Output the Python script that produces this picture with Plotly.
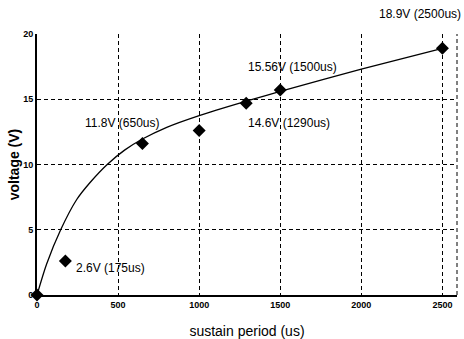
import plotly.graph_objects as go

# measured points
period_us = [0, 175, 650, 1000, 1290, 1500, 2500]
voltage_v = [0, 2.6, 11.6, 12.6, 14.7, 15.7, 18.9]

# fitted trend curve
curve_x = [0, 60, 146, 244, 326, 433, 540, 650, 800, 1000, 1290, 1500, 2000, 2500]
curve_y = [0, 2.4, 5.0, 7.3, 8.6, 10.0, 11.1, 11.95, 12.85, 13.75, 14.85, 15.6, 17.3, 18.9]

# annotation labels
label_text = ["15.56V (1500us)", "11.8V (650us)", "14.6V (1290us)", "2.6V (175us)"]
label_x = [1574, 529, 1556, 455]
label_y = [17.5, 13.2, 13.15, 2.1]
top_label = "18.9V (2500us)"

x_ticks = [0, 500, 1000, 1500, 2000, 2500]
y_ticks = [0, 5, 10, 15, 20]

font_family = "Liberation Sans Narrow, Arial Narrow, Liberation Sans, Arial, sans-serif"
title_family = "Liberation Sans, Arial, sans-serif"

fig = go.Figure()
fig.add_trace(go.Scatter(x=curve_x, y=curve_y, mode="lines",
                         line=dict(color="black", width=1.3, shape="spline", smoothing=0.8),
                         hoverinfo="skip", showlegend=False))
fig.add_trace(go.Scatter(x=period_us, y=voltage_v, mode="markers",
                         marker=dict(symbol="diamond", size=10, color="black"),
                         cliponaxis=False, showlegend=False))

for t, x, y in zip(label_text, label_x, label_y):
    fig.add_annotation(x=x, y=y, text=t, showarrow=False, xanchor="center", yanchor="middle",
                       font=dict(family=font_family, size=12, color="black"))
fig.add_annotation(x=1.014, y=1.078, xref="paper", yref="paper", text=top_label, showarrow=False,
                   xanchor="right", yanchor="middle",
                   font=dict(family=font_family, size=12, color="black"))

# dashed right border
fig.add_shape(type="line", xref="paper", yref="paper", x0=1, x1=1, y0=0, y1=1,
              line=dict(color="black", width=1, dash="4px,3px"))

fig.update_layout(
    width=464, height=339,
    margin=dict(l=37, r=7, t=34, b=44),
    paper_bgcolor="white", plot_bgcolor="white",
    font=dict(family=font_family, color="black"),
)
fig.update_xaxes(range=[0, 2590], tickvals=x_ticks, ticktext=[f"<b>{v}</b>" for v in x_ticks],
                 showgrid=True, gridcolor="black", griddash="4px,3px", gridwidth=1,
                 showline=True, linecolor="black", linewidth=2, zeroline=False,
                 ticks="", tickfont=dict(size=9, family=font_family), automargin=False,
                 title=dict(text="sustain period (us)", font=dict(size=14, family=title_family), standoff=18))
fig.update_yaxes(range=[0, 20], tickvals=y_ticks, ticktext=[f"<b>{v}</b>" for v in y_ticks],
                 showgrid=True, gridcolor="black", griddash="4px,3px", gridwidth=1,
                 showline=True, linecolor="black", linewidth=2, zeroline=False,
                 ticks="", tickfont=dict(size=9, family=font_family), automargin=False,
                 title=dict(text="<b>voltage (V)</b>", font=dict(size=14, family=title_family), standoff=0))

fig.write_html("out.html", config={"displayModeBar": False},
               post_script="document.body.style.margin='0';document.body.style.overflow='hidden';")
